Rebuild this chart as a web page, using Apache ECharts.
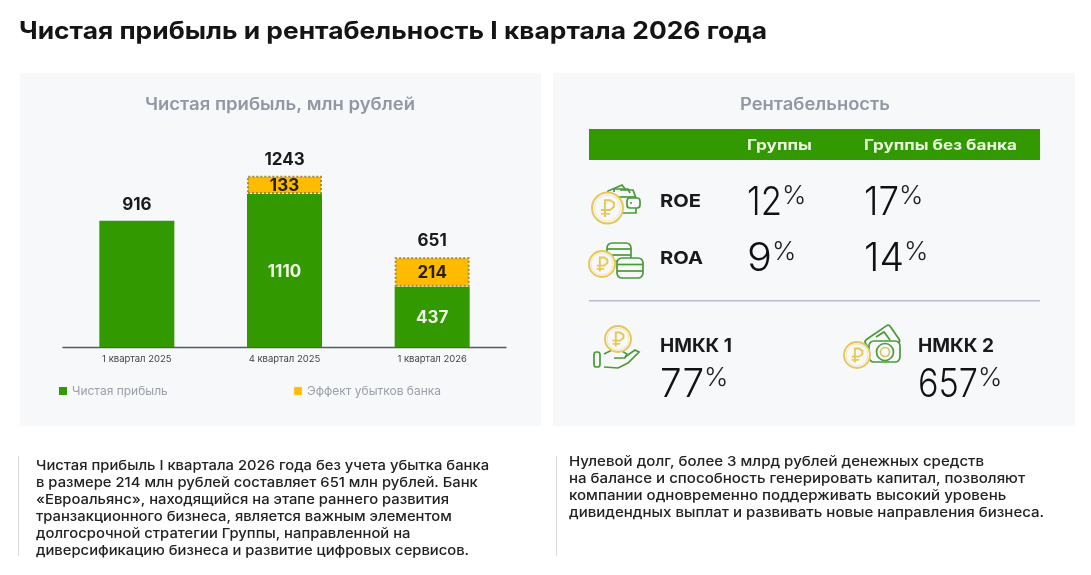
<!DOCTYPE html>
<html><head><meta charset="utf-8">
<style>html,body{margin:0;padding:0;background:#fff}#c{width:1091px;height:575px}</style>
<script src="https://cdn.jsdelivr.net/npm/echarts@6/dist/echarts.min.js"></script>
</head><body><div id="c"></div>
<script>
const categories = ['1 квартал 2025','4 квартал 2025','1 квартал 2026'];
const netProfit = [916,1110,437];
const bankEffect = [null,133,214];
const totals = [916,1243,651];
const pageTitle = 'Чистая прибыль и рентабельность I квартала 2026 года';
const chartTitle = 'Чистая прибыль, млн рублей';
const tableTitle = 'Рентабельность';
const tableHeads = ['Группы','Группы без банка'];
const roeValues = ['12','17'];
const roaValues = ['9','14'];
const nmkk1 = '77';
const nmkk2 = '657';
const leftNote = ['Чистая прибыль I квартала 2026 года без учета убытка банка','в размере 214 млн рублей составляет 651 млн рублей. Банк','«Евроальянс», находящийся на этапе раннего развития','транзакционного бизнеса, является важным элементом','долгосрочной стратегии Группы, направленной на','диверсификацию бизнеса и развитие цифровых сервисов.'];
const rightNote = ['Нулевой долг, более 3 млрд рублей денежных средств','на балансе и способность генерировать капитал, позволяют','компании одновременно поддерживать высокий уровень','дивидендных выплат и развивать новые направления бизнеса.'];

const GREEN='#339900', GOLD='#ffbb00', FF='Inter', BG='#f6f8fa';
const ctx=document.createElement('canvas').getContext('2d');
function tx(text,x,y,o){o=o||{};
  const font=(o.w||400)+' '+o.s+'px '+FF; ctx.font=font;
  const nat=ctx.measureText(text).width;
  const k=o.fit?o.fit/nat:(o.k||1);
  return {type:'text',x:x,y:y+1,scaleX:k,silent:true,z:o.z||5,
    style:{text:text,x:0,y:0,font:font,fill:o.c||'#1a1a1a',textAlign:o.a||'left',textVerticalAlign:'middle'},_w:nat*k};
}
function pct(val,x,cy,fit){
  const t=tx(val,x,cy,{s:39,w:300,fit:fit,c:'#111'});
  const p=tx('%',x+t._w,cy-6.5,{s:26,w:300,c:'#222'});
  return [t,p];
}
const GS='#4a9a38', YS='#e8c655';
const sG={stroke:GS,fill:'none',lineWidth:1.7}, sGf={stroke:GS,fill:BG,lineWidth:1.7};
function coin(cx,cy,r){
  const u=r/12;
  return [
   {type:'circle',z:6,silent:true,shape:{cx:cx,cy:cy,r:r},style:{stroke:YS,fill:BG,lineWidth:1.9}},
   {type:'circle',z:6,silent:true,shape:{cx:cx,cy:cy,r:r*0.84},style:{stroke:'#f2e2a8',fill:'none',lineWidth:0.8}},
   {type:'polyline',z:7,silent:true,shape:{points:[[cx-2*u,cy+7*u],[cx-2*u,cy-6*u],[cx+2*u,cy-6*u],[cx+5*u,cy-4*u],[cx+5*u,cy-1*u],[cx+2*u,cy+1.5*u],[cx-5*u,cy+1.5*u]]},style:{stroke:YS,fill:'none',lineWidth:1.9}},
   {type:'line',z:7,silent:true,shape:{x1:cx-5*u,y1:cy+4.5*u,x2:cx+2*u,y2:cy+4.5*u},style:{stroke:YS,lineWidth:1.6}}
  ];
}
function rr(x,y,w,h,r,st){return {type:'rect',z:5,silent:true,shape:{x:x,y:y,width:w,height:h,r:r},style:st||sG};}
function pl(pts,smooth){return {type:'polyline',z:5,silent:true,shape:{points:pts,smooth:smooth||0},style:sG};}
const iconWallet=[
  pl([[607,197],[608,191],[622,185],[626,190]]),
  pl([[614,192],[614,189],[628,189],[630,193]]),
  pl([[620,190],[633,190],[636,198]]),
  pl([[607,197],[636,197]]),
  pl([[636,208],[636,213],[621,213]]),
  rr(627,198,13,10,3,sGf),
  {type:'circle',z:5,silent:true,shape:{cx:631,cy:203,r:1},style:{fill:GS}},
  ...coin(607.5,208,15.5)];
const iconCoins=[
  rr(607,243,24,18,5),pl([[607,249],[631,249]]),pl([[607,255],[631,255]]),
  rr(617,258,26,20,5,sGf),pl([[617,264.5],[643,264.5]]),pl([[617,271],[643,271]]),
  ...coin(602,264,13)];
const iconHand=[...coin(618,339,13),
  rr(594,352,6,15,2.5),
  pl([[604,354],[612,350],[622,351],[627,354],[625,358],[614,358]]),
  pl([[625,357],[635,350],[639,352],[628,363],[618,368],[604,367]])];
const iconCash=[
  {type:'rect',z:5,silent:true,x:884,y:342,rotation:0.6,shape:{x:-16,y:-12,width:30,height:21,r:3},style:sG},
  pl([[876,337],[884,332],[890,340]]),
  {type:'rect',z:5,silent:true,shape:{x:869,y:341,width:31,height:21,r:5},style:sGf},
  {type:'circle',z:5,silent:true,shape:{cx:885,cy:352,r:4.5},style:{stroke:'#d7c25e',fill:'none',lineWidth:1.6}},
  {type:'circle',z:5,silent:true,shape:{cx:885,cy:352,r:8.5},style:sG},
  ...coin(857,355,13)];

const els=[
  {type:'rect',z:-10,silent:true,shape:{x:20,y:73,width:521,height:353},style:{fill:BG}},
  {type:'rect',z:-10,silent:true,shape:{x:553,y:73,width:522,height:353},style:{fill:BG}},
  {type:'rect',z:1,silent:true,shape:{x:589,y:129,width:451,height:31},style:{fill:GREEN}},
  {type:'rect',z:1,silent:true,shape:{x:589,y:300,width:451,height:1.5},style:{fill:'#b9bdc6'}},
  {type:'rect',z:1,silent:true,shape:{x:18,y:456,width:1,height:100},style:{fill:'#dcdcdc'}},
  {type:'rect',z:1,silent:true,shape:{x:556,y:456,width:1,height:100},style:{fill:'#dcdcdc'}},
  tx(pageTitle,19,31,{s:24,w:700,fit:748,c:'#141414'}),
  tx(chartTitle,280,104,{s:17,w:600,fit:270,a:'center',c:'#9198a4'}),
  tx(tableTitle,815,104,{s:17,w:600,fit:150,a:'center',c:'#9198a4'}),
  tx(tableHeads[0],747,145,{s:14.5,w:700,fit:65,c:'#eaf5e2'}),
  tx(tableHeads[1],864,145,{s:14.5,w:700,fit:153,c:'#eaf5e2'}),
  tx('ROE',660,201,{s:18,w:700,fit:41}),
  tx('ROA',660,258,{s:18,w:700,fit:43}),
  tx('НМКК 1',660,345,{s:19,w:700,fit:72}),
  tx('НМКК 2',918,345,{s:19,w:700,fit:76}),
  ...pct(roeValues[0],747,202,35),
  ...pct(roeValues[1],864,202,35),
  ...pct(roaValues[0],747,258,25),
  ...pct(roaValues[1],864,258,40),
  ...pct(nmkk1,660,384,44),
  ...pct(nmkk2,918,384,60),
  ...leftNote.map((l,i)=>tx(l,36,465+i*17,{s:13.5,w:500,k:1.095,c:'#222'})),
  ...rightNote.map((l,i)=>tx(l,569,461+i*17,{s:13.5,w:500,k:1.115,c:'#222'})),
  ...iconWallet,...iconCoins,...iconHand,...iconCash
];

const chart=echarts.init(document.getElementById('c'),null,{renderer:'canvas'});
const leg=(name,left,itemStyle)=>({data:[{name:name,icon:'rect'}],left:left,top:385,padding:0,itemWidth:8,itemHeight:8,itemGap:5,itemStyle:itemStyle,textStyle:{fontSize:12,color:'#9a9fa8',fontFamily:FF}});
chart.setOption({
  animation:false,
  textStyle:{fontFamily:FF},
  graphic:{elements:els},
  legend:[leg('Чистая прибыль',59,{borderWidth:0}),leg('Эффект убытков банка',293.5,{borderWidth:1,borderColor:'#f6e3a0',borderType:[1.5,1.5]})],
  grid:{left:63,width:443,top:154,height:193},
  xAxis:{type:'category',data:categories,axisTick:{show:false},
    axisLine:{lineStyle:{color:'#555a60',width:1.3}},
    axisLabel:{fontSize:9.5,color:'#444',margin:7,fontFamily:FF}},
  yAxis:{type:'value',min:0,max:1400,show:false,splitLine:{show:false}},
  series:[
    {name:'Чистая прибыль',type:'bar',stack:'a',barWidth:75,data:netProfit,
     itemStyle:{color:GREEN},
     label:{show:true,position:'inside',offset:[0,1],fontSize:17,fontWeight:700,color:'#eef7e6',fontFamily:FF,
       formatter:p=>p.dataIndex===0?'':String(p.value)}},
    {name:'Эффект убытков банка',type:'bar',stack:'a',barWidth:75,data:bankEffect,
     itemStyle:{color:GOLD,borderColor:'#a08c44',borderWidth:2,borderType:[2,2]},
     label:{show:true,position:'inside',offset:[0,1],fontSize:17,fontWeight:700,color:'#2a2008',fontFamily:FF}},
    {name:'Итого',type:'line',data:totals,symbol:'circle',symbolSize:1,silent:true,
     lineStyle:{width:0},itemStyle:{color:'transparent'},
     label:{show:true,position:'top',distance:7,fontSize:17,fontWeight:700,color:'#1a1a1a',fontFamily:FF}}
  ]
});
</script></body></html>
